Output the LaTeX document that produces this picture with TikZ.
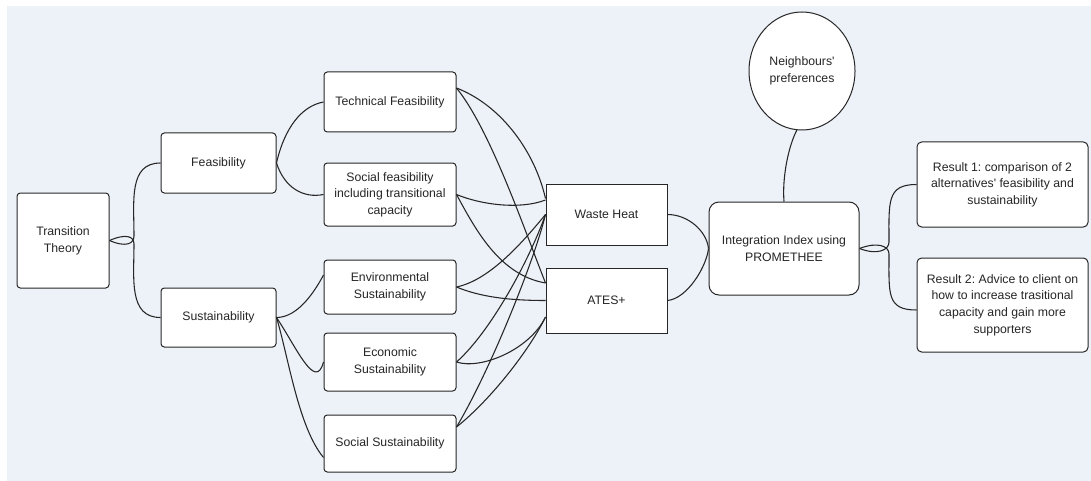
\documentclass[tikz,border=0pt]{standalone}
\usepackage{fontspec}
\setmainfont{Liberation Sans}
\usetikzlibrary{shapes.geometric,calc}
\definecolor{canvas}{RGB}{237,241,248}
\definecolor{ink}{RGB}{38,38,38}
\frenchspacing
\begin{document}
\begin{tikzpicture}[x=0.75pt,y=-0.75pt,
  box/.style={draw=ink, line width=0.75pt, fill=white, rounded corners=2.5pt,
    align=center, inner sep=2pt, text=ink, font=\fontsize{9.2}{12.5}\selectfont},
  sqbox/.style={box, rounded corners=0pt},
  bigbox/.style={box, rounded corners=7.5pt},
  bubble/.style={box, ellipse, rounded corners=0pt},
  link/.style={draw=ink, line width=0.8pt}]
\useasboundingbox (0,0) rectangle (1091,481);
\fill[white] (0,0) rectangle (1091,481);
\fill[canvas] (7,6) rectangle (1091,481);

% criteria tree
\node[box, minimum width=69pt, minimum height=71.25pt] (tt) at (63,240.5) {Transition\\Theory};
\node[box, minimum width=86.25pt, minimum height=45pt] (feas) at (218.5,163) {Feasibility};
\node[box, minimum width=86.25pt, minimum height=44.25pt] (sust) at (218.5,317.5) {Sustainability};
\node[box, minimum width=99pt, minimum height=45pt] (tech) at (390,102) {Technical Feasibility};
\node[box, minimum width=99pt, minimum height=47.25pt] (socf) at (390,194.5) {Social feasibility\\including transitional\\capacity};
\node[box, minimum width=99pt, minimum height=40.5pt] (env) at (390,287) {Environmental\\Sustainability};
\node[box, minimum width=99pt, minimum height=43.5pt] (econ) at (390,362) {Economic\\Sustainability};
\node[box, minimum width=99pt, minimum height=42.75pt] (socs) at (390,443.5) {Social Sustainability};

% alternatives
\node[sqbox, minimum width=90.75pt, minimum height=45.75pt] (wh) at (606.5,214.5) {Waste Heat};
\node[sqbox, minimum width=90.75pt, minimum height=48.75pt] (ates) at (606.5,300.5) {ATES+};

% integration and results
\node[bigbox, minimum width=112.5pt, minimum height=69.75pt] (ii) at (784,248.5) {Integration Index using\\PROMETHEE};
\node[bubble, minimum width=79.5pt, minimum height=88.5pt, inner sep=0pt] (np) at (802,71) {Neighbours\textquotesingle\\preferences};
\node[box, minimum width=128.25pt, minimum height=63.75pt, rounded corners=3.5pt] (r1) at (1002.5,184.5) {Result 1: comparison of 2\\alternatives\textquotesingle{} feasibility and\\sustainability};
\node[box, minimum width=128.25pt, minimum height=70.5pt, rounded corners=3.5pt] (r2) at (1002.5,305) {Result 2: Advice to client on\\how to increase trasitional\\capacity and gain more\\supporters};

% pinch points of the two braces
\coordinate (tbU) at (134,236);
\coordinate (tbD) at (134,244);
\coordinate (rbU) at (889,242);
\coordinate (rbD) at (889,254);

% left brace
\draw[link] (tt.east) .. controls +(16,7) and +(0,8) .. (tbU)
  .. controls +(0,-35) and +(-32,0) .. (feas.west);
\draw[link] (tt.east) .. controls +(16,-7) and +(0,-8) .. (tbD)
  .. controls +(0,35) and +(-32,0) .. (sust.west);

% sub-criteria
\draw[link] (feas.east) .. controls +(8,-35) and +(-22,4) .. (tech.west);
\draw[link] (feas.east) .. controls +(8,25) and +(-20,4) .. (socf.west);
\draw[link] (sust.east) .. controls +(22,0) and +(-8,15) .. ($(env.west)+(0,-12)$);
\draw[link] (sust.east) .. controls +(20,30) and +(-8,30) .. (econ.west);
\draw[link] (sust.east) .. controls +(12,40) and +(-25,-30) .. ($(socs.west)+(0,14)$);

% sub-criteria to alternatives
\draw[link] ($(tech.east)+(0,-14)$) .. controls +(44,17) and +(-11,-48) .. ($(wh.west)+(0,-16)$);
\draw[link] ($(tech.east)+(0,-14)$) .. controls +(34,42) and +(-21,-53) .. ($(ates.west)+(0,-17.5)$);
\draw[link] (socf.east) .. controls +(24,10) and +(-26,10) .. ($(wh.west)+(0,-14.5)$);
\draw[link] (socf.east) .. controls +(19,35) and +(-46,-8) .. ($(ates.west)+(0,-17.5)$);
\draw[link] (env.east) .. controls +(34,-7) and +(-21,25.5) .. (wh.west);
\draw[link] (env.east) .. controls +(24,10) and +(-36,0) .. (ates.west);
\draw[link] (econ.east) .. controls +(34,-30) and +(-16,45.5) .. (wh.west);
\draw[link] (econ.east) .. controls +(24,8) and +(-16,33) .. ($(ates.west)+(0,16.5)$);
\draw[link] ($(socs.east)+(0,-16.5)$) .. controls +(34,-57) and +(-11,45.5) .. (wh.west);
\draw[link] ($(socs.east)+(0,-16.5)$) .. controls +(34,-27) and +(-16,33) .. ($(ates.west)+(0,16.5)$);

% alternatives to the index
\draw[link] (wh.east) .. controls +(20,0) and +(-2,-18) .. (ii.west);
\draw[link] (ates.east) .. controls +(20,-2) and +(-2,18) .. (ii.west);
\draw[link] (np.265) .. controls +(-8,15) and +(-2,-25) .. (ii.north);

% right brace
\draw[link] (ii.east) .. controls +(18,7) and +(0,8) .. (rbU)
  .. controls +(0,-40) and +(-30,0) .. (r1.west);
\draw[link] (ii.east) .. controls +(18,-7) and +(0,-8) .. (rbD)
  .. controls +(0,40) and +(-30,0) .. ($(r2.west)+(0,5)$);
\end{tikzpicture}
\end{document}
